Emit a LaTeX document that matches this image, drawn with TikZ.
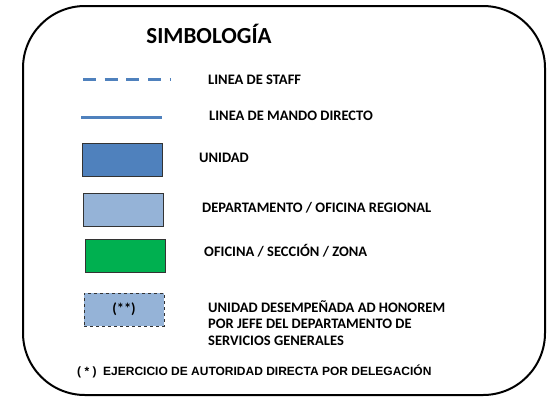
\documentclass[tikz,border=0pt]{standalone}
\usepackage{fontspec}
\setmainfont{Carlito}
\newfontfamily\arialf{Liberation Sans}
\definecolor{unidad}{HTML}{4F81BD}
\definecolor{depto}{HTML}{95B3D7}
\definecolor{verde}{HTML}{00B050}
\begin{document}
\begin{tikzpicture}[x=1pt,y=-1pt,
  lbl/.style={anchor=west,font=\bfseries\fontsize{14.5}{17}\selectfont,inner sep=0pt},
  symbox/.style={draw=black!80,line width=1pt,minimum width=80pt,minimum height=33pt,inner sep=0pt},
  legline/.style={draw=unidad,line width=3pt}]
\useasboundingbox (0,0) rectangle (548,397);
\draw[line width=2pt,rounded corners=62pt] (23,6) rectangle (545,395);
\node[font=\bfseries\fontsize{23}{26}\selectfont,inner sep=0pt] (title) at (209,34) {SIMBOLOGÍA};
\coordinate (s1) at (83,79); \coordinate (s2) at (171,79);
\draw[legline,dash pattern=on 13pt off 8.7pt] (s1) -- (s2);
\node[lbl] (tstaff) at (208,80) {LINEA DE STAFF};
\coordinate (m1) at (81,117); \coordinate (m2) at (162,117);
\draw[legline] (m1) -- (m2);
\node[lbl] (tmando) at (209,116) {LINEA DE MANDO DIRECTO};
\node[symbox,fill=unidad] (bunidad) at (122,159.5) {};
\node[lbl] (tunidad) at (199,158) {UNIDAD};
\node[symbox,fill=depto] (bdepto) at (123,209.5) {};
\node[lbl] (tdepto) at (202,208) {DEPARTAMENTO / OFICINA REGIONAL};
\node[symbox,fill=verde] (bverde) at (125.5,255.5) {};
\node[lbl] (tverde) at (204,251) {OFICINA / SECCIÓN / ZONA};
\node[symbox,fill=depto,dashed,font=\bfseries\fontsize{14.5}{17}\selectfont] (bhon) at (124,309.5) {(**)};
\node[lbl] (thon1) at (208,307) {UNIDAD DESEMPEÑADA AD HONOREM};
\node[lbl] (thon2) at (208,324) {POR JEFE DEL DEPARTAMENTO DE};
\node[lbl] (thon3) at (208,341) {SERVICIOS GENERALES};
\node[lbl,font=\arialf\bfseries\fontsize{12}{14}\selectfont] (tfoot) at (77,371) {( * )\ \ EJERCICIO DE AUTORIDAD DIRECTA POR DELEGACIÓN};
\end{tikzpicture}
\end{document}
